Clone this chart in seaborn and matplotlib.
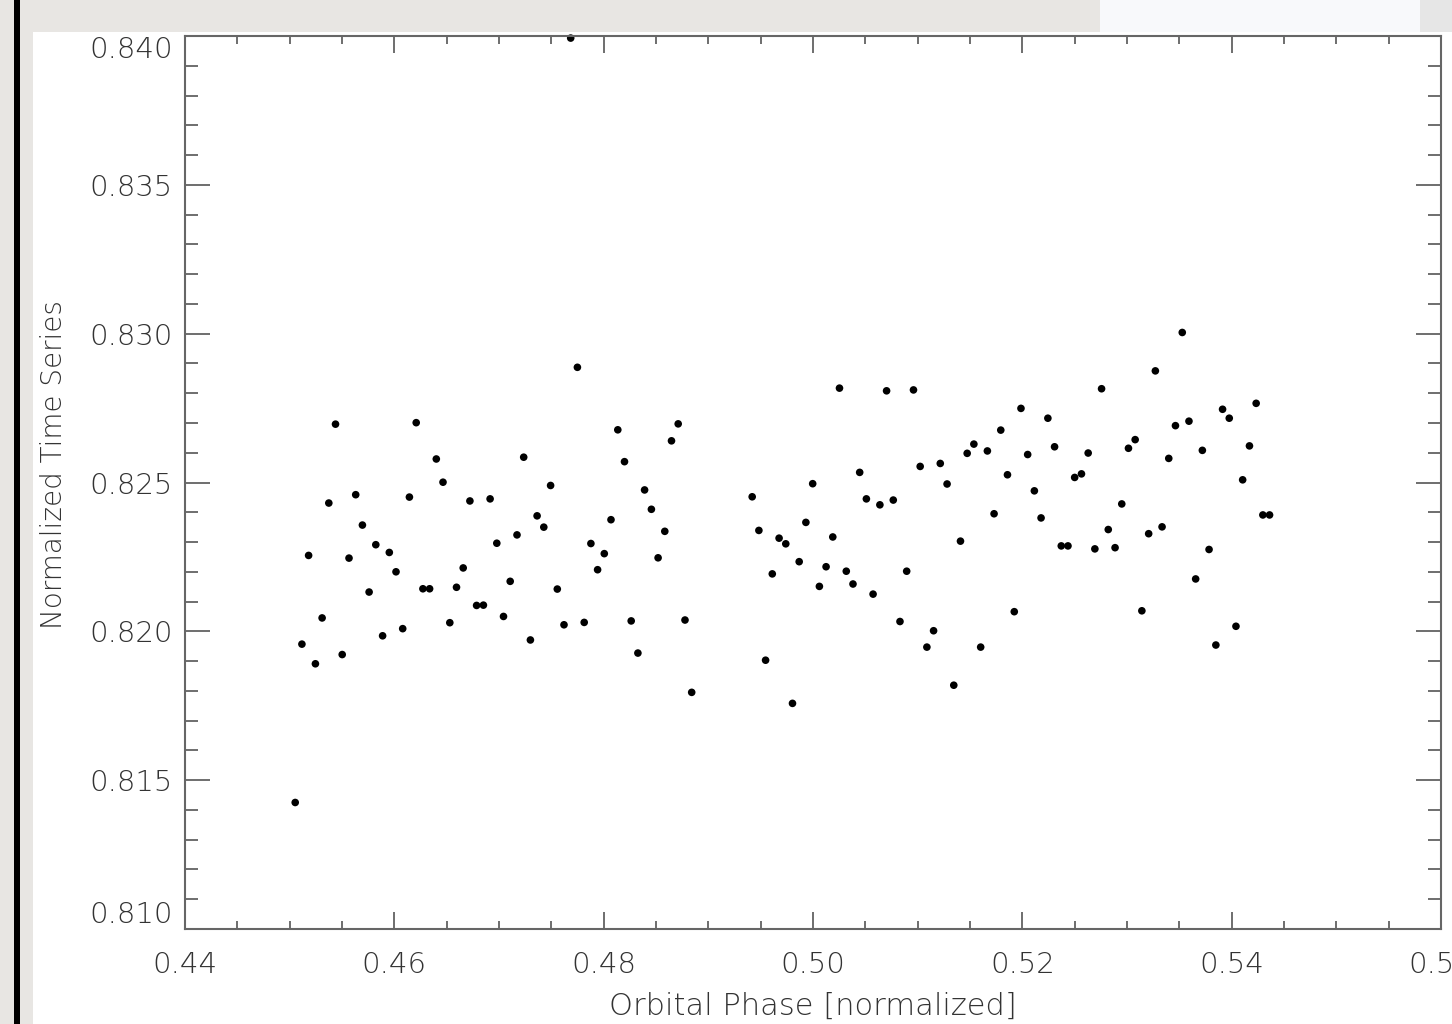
import numpy as np
import pandas as pd
import seaborn as sns
import matplotlib.pyplot as plt
from matplotlib.patches import Rectangle
from matplotlib.ticker import MultipleLocator

sns.set_style("ticks")
plt.rcParams['font.family'] = ['DejaVu Sans']
plt.rcParams['font.weight'] = 200

# phase values (gap between the two runs)
phase_a = [0.45053, 0.45117, 0.45181, 0.45246, 0.45310, 0.45374, 0.45438, 0.45502, 0.45567, 0.45631,
           0.45695, 0.45759, 0.45823, 0.45888, 0.45952, 0.46016, 0.46080, 0.46144, 0.46209, 0.46273,
           0.46337, 0.46401, 0.46465, 0.46530, 0.46594, 0.46658, 0.46722, 0.46786, 0.46851, 0.46915,
           0.46979, 0.47043, 0.47107, 0.47172, 0.47236, 0.47300, 0.47364, 0.47428, 0.47493, 0.47557,
           0.47621, 0.47685, 0.47749, 0.47814, 0.47878, 0.47942, 0.48006, 0.48070, 0.48135, 0.48199,
           0.48263, 0.48327, 0.48391, 0.48456, 0.48520, 0.48584, 0.48648, 0.48712, 0.48777, 0.48841]
flux_a = [0.81425, 0.81957, 0.82255, 0.81891, 0.82045, 0.82431, 0.82696, 0.81922, 0.82246, 0.82459,
          0.82357, 0.82132, 0.82291, 0.81985, 0.82265, 0.82200, 0.82009, 0.82451, 0.82701, 0.82143,
          0.82143, 0.82579, 0.82501, 0.82029, 0.82148, 0.82213, 0.82438, 0.82087, 0.82088, 0.82445,
          0.82296, 0.82050, 0.82168, 0.82324, 0.82585, 0.81971, 0.82388, 0.82350, 0.82490, 0.82142,
          0.82022, 0.83993, 0.82887, 0.82030, 0.82295, 0.82207, 0.82261, 0.82375, 0.82677, 0.82570,
          0.82035, 0.81927, 0.82475, 0.82410, 0.82247, 0.82336, 0.82640, 0.82697, 0.82038, 0.81795]

phase_b = [0.49419, 0.49483, 0.49547, 0.49611, 0.49676, 0.49740, 0.49804, 0.49868, 0.49932, 0.49997,
           0.50061, 0.50125, 0.50189, 0.50253, 0.50318, 0.50382, 0.50446, 0.50510, 0.50574, 0.50639,
           0.50703, 0.50767, 0.50831, 0.50895, 0.50960, 0.51024, 0.51088, 0.51152, 0.51216, 0.51281,
           0.51345, 0.51409, 0.51473, 0.51537, 0.51602, 0.51666, 0.51730, 0.51794, 0.51858, 0.51923,
           0.51987, 0.52051, 0.52115, 0.52179, 0.52244, 0.52308, 0.52372, 0.52436, 0.52500, 0.52565,
           0.52629, 0.52693, 0.52757, 0.52821, 0.52886, 0.52950, 0.53014, 0.53078, 0.53142, 0.53207,
           0.53271, 0.53335, 0.53399, 0.53463, 0.53528, 0.53592, 0.53656, 0.53720, 0.53784, 0.53849,
           0.53913, 0.53977, 0.54041, 0.54105, 0.54170, 0.54234, 0.54298, 0.54362]
flux_b = [0.82452, 0.82339, 0.81903, 0.82193, 0.82313, 0.82294, 0.81758, 0.82234, 0.82366, 0.82496,
          0.82151, 0.82217, 0.82317, 0.82817, 0.82202, 0.82159, 0.82534, 0.82445, 0.82125, 0.82425,
          0.82808, 0.82441, 0.82033, 0.82202, 0.82811, 0.82554, 0.81947, 0.82002, 0.82564, 0.82495,
          0.81819, 0.82303, 0.82598, 0.82629, 0.81947, 0.82606, 0.82395, 0.82676, 0.82526, 0.82066,
          0.82749, 0.82594, 0.82472, 0.82381, 0.82716, 0.82620, 0.82287, 0.82287, 0.82517, 0.82529,
          0.82599, 0.82277, 0.82815, 0.82342, 0.82281, 0.82428, 0.82615, 0.82644, 0.82069, 0.82328,
          0.82875, 0.82351, 0.82581, 0.82691, 0.83004, 0.82706, 0.82176, 0.82608, 0.82275, 0.81954,
          0.82746, 0.82716, 0.82017, 0.82509, 0.82623, 0.82766, 0.82391, 0.82391]

x_ticks = [0.44, 0.46, 0.48, 0.50, 0.52, 0.54, 0.56]
y_ticks = [0.810, 0.815, 0.820, 0.825, 0.830, 0.835, 0.840]

df = pd.DataFrame({'phase': phase_a + phase_b, 'flux': flux_a + flux_b})

fig = plt.figure(figsize=(14.52, 10.24), dpi=100, facecolor='white')

# greyish page border from the screenshot
fig.patches.append(Rectangle((0, 1 - 32 / 1024), 1100 / 1452, 32 / 1024, transform=fig.transFigure,
                             facecolor='#e8e6e3', edgecolor='none', zorder=0))
fig.patches.append(Rectangle((1100 / 1452, 1 - 32 / 1024), 320 / 1452, 32 / 1024, transform=fig.transFigure,
                             facecolor='#f8f9fb', edgecolor='none', zorder=0))
fig.patches.append(Rectangle((1420 / 1452, 1 - 32 / 1024), 32 / 1452, 32 / 1024, transform=fig.transFigure,
                             facecolor='#e6e6e6', edgecolor='none', zorder=0))
fig.patches.append(Rectangle((0, 0), 33 / 1452, 1, transform=fig.transFigure,
                             facecolor='#e8e6e3', edgecolor='none', zorder=0))
fig.patches.append(Rectangle((14 / 1452, 0), 6 / 1452, 1, transform=fig.transFigure,
                             facecolor='black', edgecolor='none', zorder=1))

ax = fig.add_axes([185 / 1452, 1 - 929 / 1024, 1256 / 1452, 893 / 1024])
sns.scatterplot(data=df, x='phase', y='flux', color='black', s=30, edgecolor='none', ax=ax, clip_on=False)

ax.set_xlim(0.44, 0.56)
ax.set_ylim(0.810, 0.840)
ax.set_xticks(x_ticks, [f'{t:.2f}' for t in x_ticks])
ax.set_yticks(y_ticks, [f'{t:.3f}' for t in y_ticks])
ax.xaxis.set_minor_locator(MultipleLocator(0.005))
ax.yaxis.set_minor_locator(MultipleLocator(0.001))

for side in ax.spines.values():
    side.set_color('#666666')
    side.set_linewidth(1.5)

ax.tick_params(axis='both', which='both', direction='in', top=True, right=True,
               color='#555555', width=1.2, labelcolor='#333333', labelsize=21)
ax.tick_params(axis='x', which='major', length=12.5, pad=16)
ax.tick_params(axis='x', which='minor', length=6)
ax.tick_params(axis='y', which='major', length=18, pad=9)
ax.tick_params(axis='y', which='minor', length=9.5)

# IDL-style: end labels kept inside the axis range
ylabs = ax.get_yticklabels()
ylabs[0].set_va('bottom')
ylabs[-1].set_va('top')

ax.set_xlabel('Orbital Phase [normalized]', fontsize=22, color='#333333', fontweight=200, labelpad=9)
ax.set_ylabel('Normalized Time Series', fontsize=20, color='#333333', fontweight=200, labelpad=15, y=0.52)

fig.savefig('out.png', dpi=100, facecolor=fig.get_facecolor())
